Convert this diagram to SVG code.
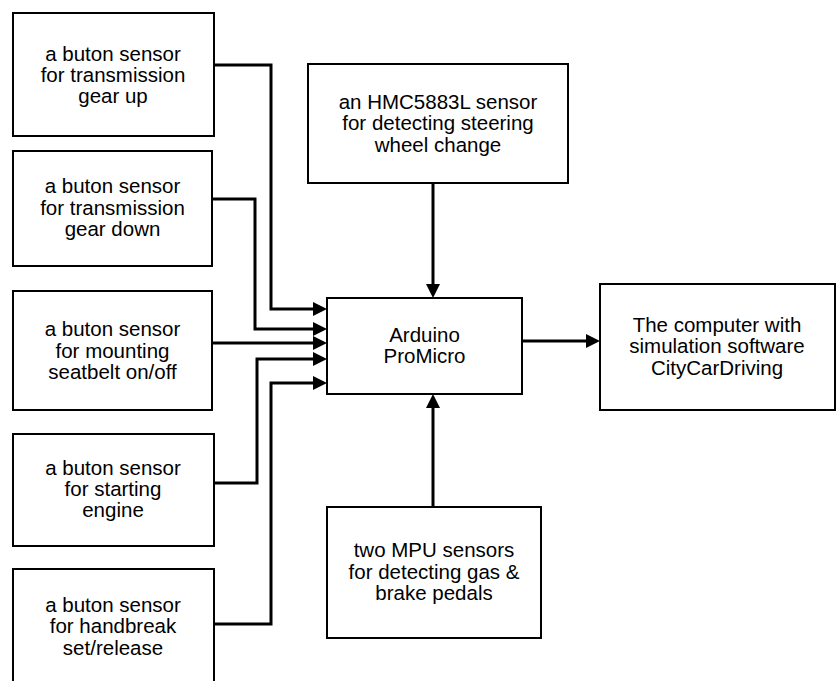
<svg xmlns="http://www.w3.org/2000/svg" width="837" height="681" viewBox="0 0 837 681">
<style>
.box{fill:#fff;stroke:#000;stroke-width:2}
.lbl{font-family:"Liberation Sans",Arial,sans-serif;font-size:20.5px;fill:#000;text-anchor:middle}
.con{fill:none;stroke:#000;stroke-width:3}
</style>
<defs>
<marker id="arr" markerUnits="userSpaceOnUse" markerWidth="14" markerHeight="14" refX="7" refY="7" orient="auto">
<path d="M0,0 L14,7 L0,14 z" fill="#000"/>
</marker>
</defs>
<rect width="837" height="681" fill="#fff"/>
<g id="connectors">
<path class="con" d="M214,65 H271 V309 H320" marker-end="url(#arr)"/>
<path class="con" d="M212,199 H255 V329 H320" marker-end="url(#arr)"/>
<path class="con" d="M212,343 H320" marker-end="url(#arr)"/>
<path class="con" d="M214,483 H257 V359 H320" marker-end="url(#arr)"/>
<path class="con" d="M214,624 H271 V383 H320" marker-end="url(#arr)"/>
<path class="con" d="M433,183 V291" marker-end="url(#arr)"/>
<path class="con" d="M433,507 V401" marker-end="url(#arr)"/>
<path class="con" d="M522,341 H593" marker-end="url(#arr)"/>
</g>
<g id="btn-gear-up">
<rect class="box" x="13" y="13" width="201" height="123"/>
<text class="lbl" x="113" y="60.7">a buton sensor</text>
<text class="lbl" x="113" y="82">for transmission</text>
<text class="lbl" x="113" y="103.3">gear up</text>
</g>
<g id="btn-gear-down">
<rect class="box" x="13" y="151" width="199" height="115"/>
<text class="lbl" x="112.5" y="193.3">a buton sensor</text>
<text class="lbl" x="112.5" y="215">for transmission</text>
<text class="lbl" x="112.5" y="236.3">gear down</text>
</g>
<g id="btn-seatbelt">
<rect class="box" x="13" y="291" width="199" height="119"/>
<text class="lbl" x="112.5" y="336">a buton sensor</text>
<text class="lbl" x="112.5" y="357.6">for mounting</text>
<text class="lbl" x="112.5" y="379">seatbelt on/off</text>
</g>
<g id="btn-engine">
<rect class="box" x="13" y="434" width="201" height="112"/>
<text class="lbl" x="113" y="474.5">a buton sensor</text>
<text class="lbl" x="113" y="496">for starting</text>
<text class="lbl" x="113" y="517.3">engine</text>
</g>
<g id="btn-handbreak">
<rect class="box" x="13" y="569" width="201" height="130"/>
<text class="lbl" x="113" y="611.7">a buton sensor</text>
<text class="lbl" x="113" y="633.2">for handbreak</text>
<text class="lbl" x="113" y="654.5">set/release</text>
</g>
<g id="hmc">
<rect class="box" x="308" y="64" width="260" height="119"/>
<text class="lbl" x="438" y="108.5">an HMC5883L sensor</text>
<text class="lbl" x="438" y="130">for detecting steering</text>
<text class="lbl" x="438" y="151.5">wheel change</text>
</g>
<g id="arduino">
<rect class="box" x="327" y="298" width="195" height="96"/>
<text class="lbl" x="424.5" y="341.5">Arduino</text>
<text class="lbl" x="424.5" y="363">ProMicro</text>
</g>
<g id="computer">
<rect class="box" x="600" y="284" width="235" height="126"/>
<text class="lbl" x="717" y="331.7">The computer with</text>
<text class="lbl" x="717" y="353.2">simulation software</text>
<text class="lbl" x="717" y="374.5">CityCarDriving</text>
</g>
<g id="mpu">
<rect class="box" x="327" y="507" width="214" height="131"/>
<text class="lbl" x="434" y="557">two MPU sensors</text>
<text class="lbl" x="434" y="578.5">for detecting gas &amp;</text>
<text class="lbl" x="434" y="600">brake pedals</text>
</g>
</svg>
